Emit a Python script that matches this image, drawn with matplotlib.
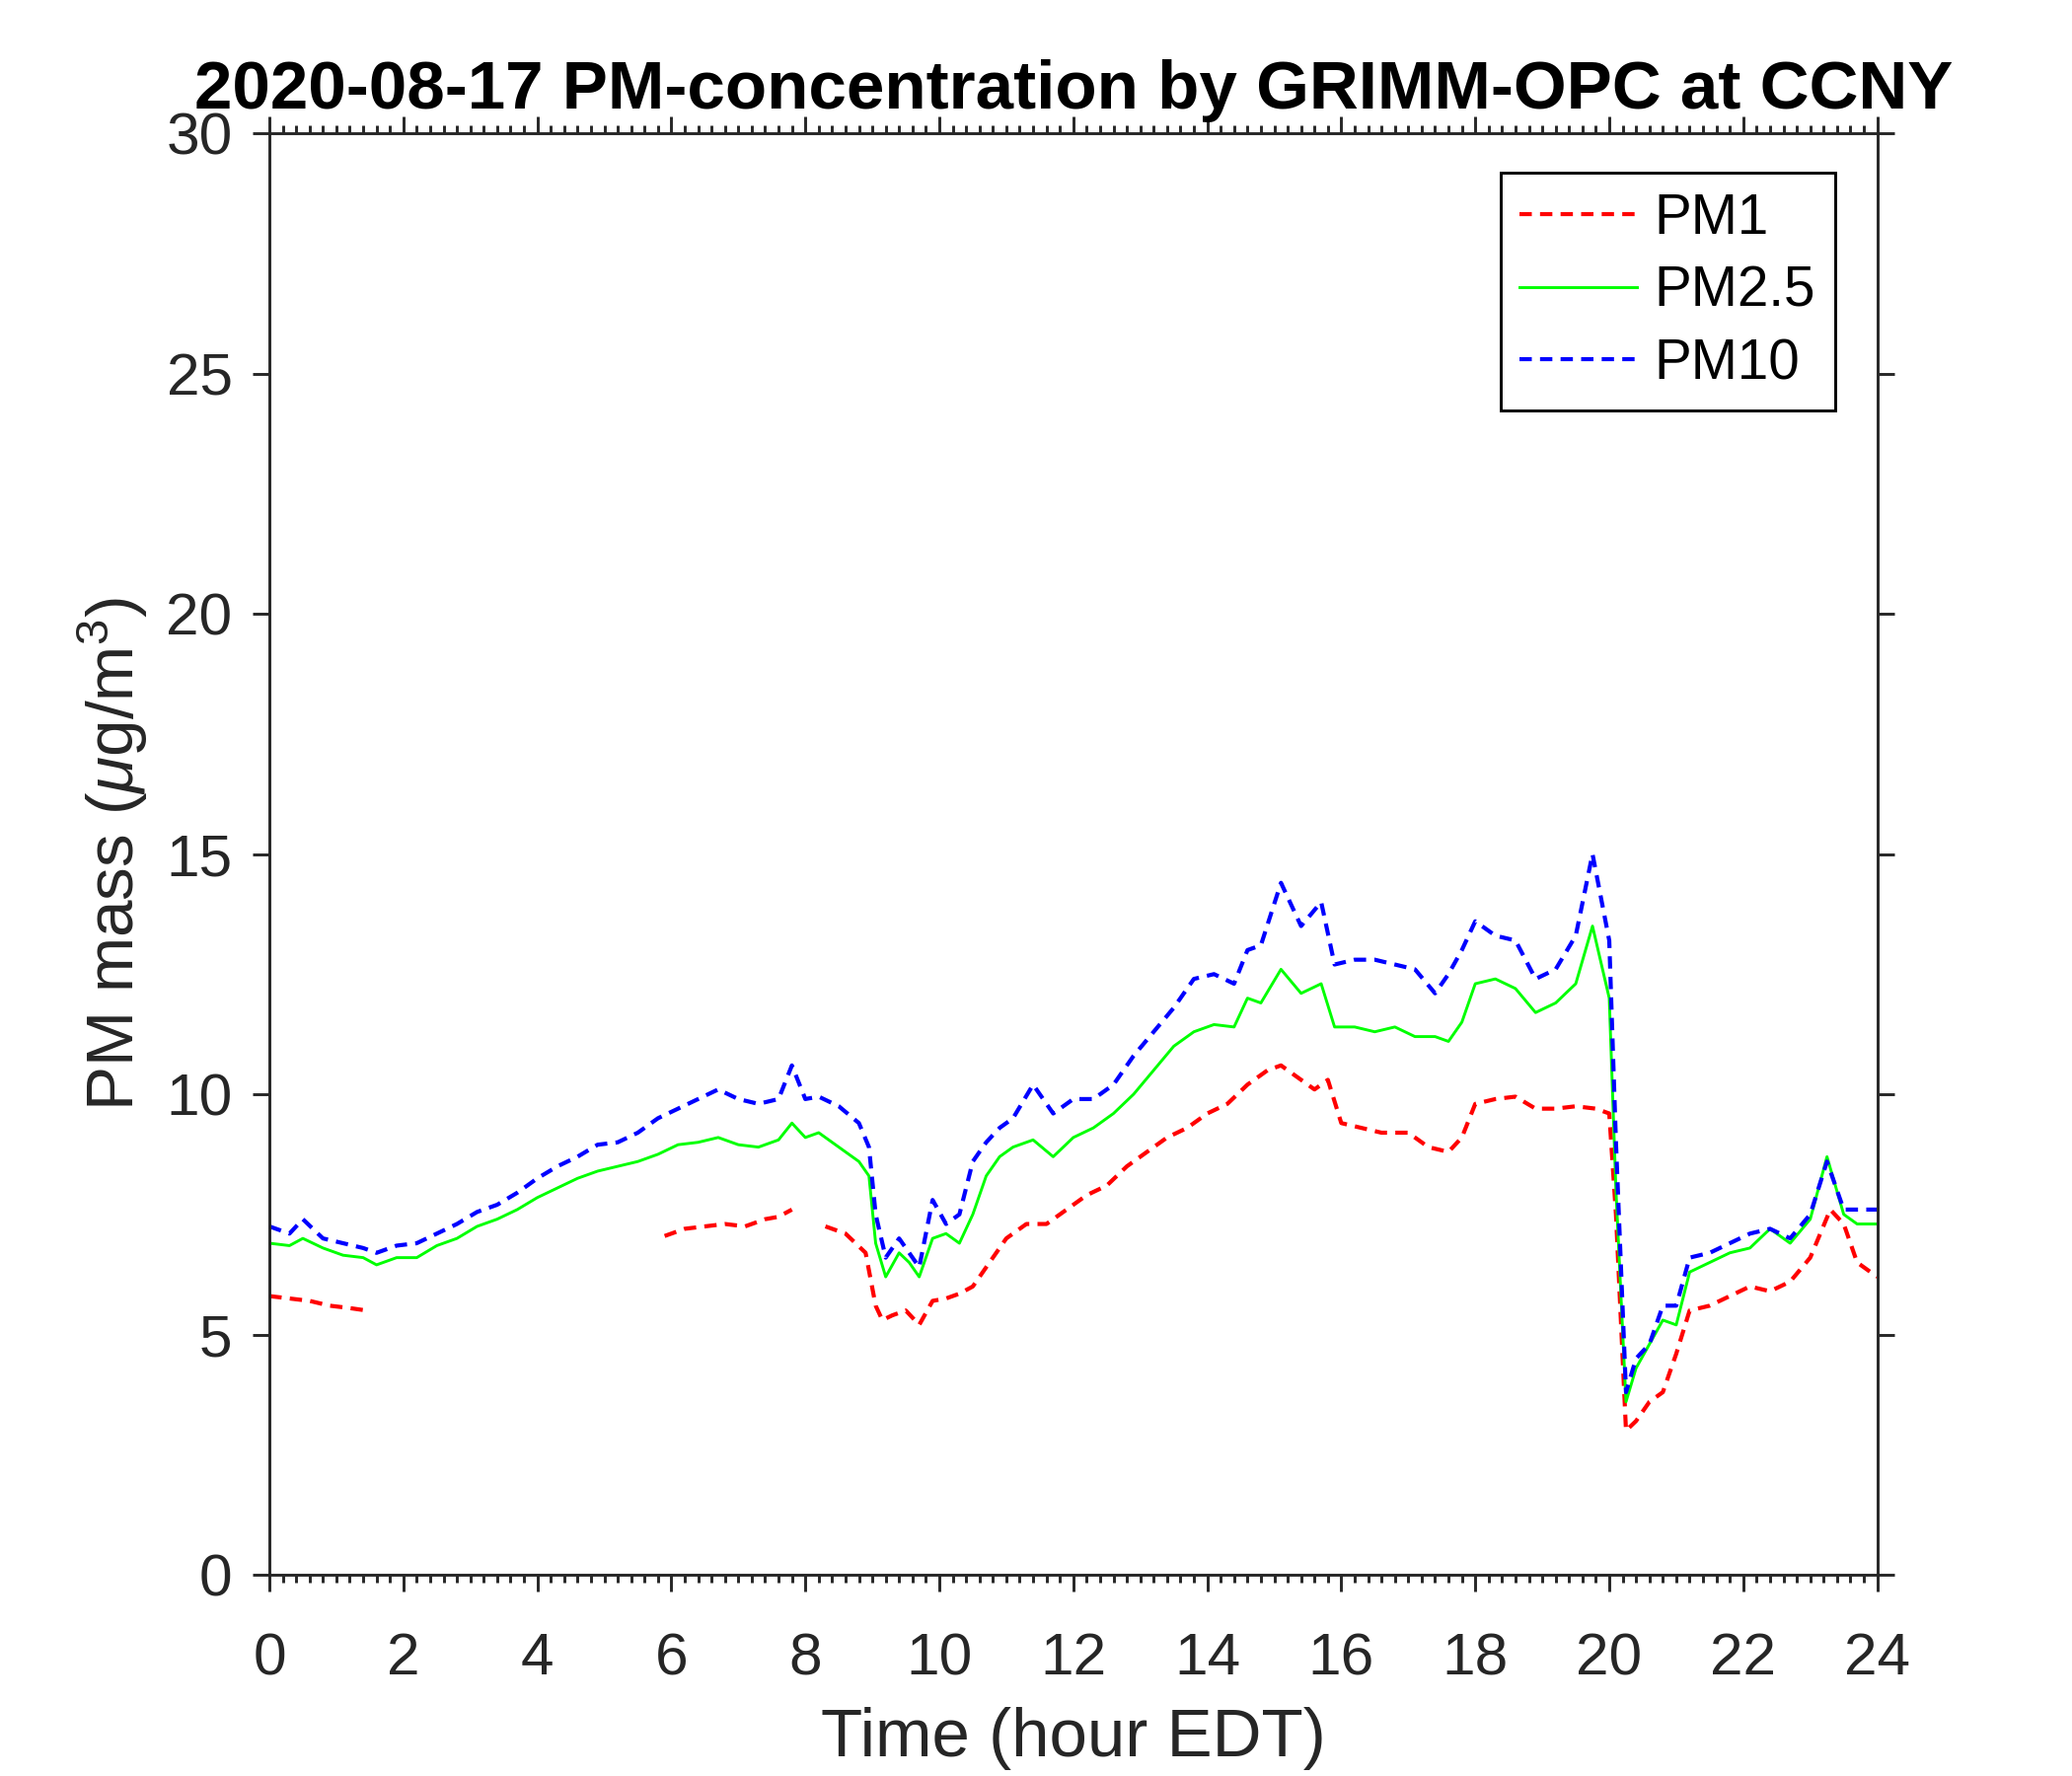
import numpy as np
import matplotlib.pyplot as plt
from matplotlib.ticker import MultipleLocator

plt.rcParams['font.family'] = ['Liberation Sans', 'DejaVu Sans']
plt.rcParams['mathtext.fontset'] = 'custom'
plt.rcParams['mathtext.rm'] = 'Liberation Sans'
plt.rcParams['mathtext.it'] = 'Liberation Sans:italic'

# hours (EDT) and concentrations
t_pm1 = [0, 0.3, 0.6, 0.9, 1.2, 1.45, 1.5,
         5.9, 6.2, 6.5, 6.8, 7.1, 7.4, 7.6, 7.8, 7.9,
         8.3, 8.6, 8.9, 9.05, 9.15, 9.3, 9.5, 9.7, 9.9, 10.1, 10.3, 10.5, 10.8, 11.0,
         11.3, 11.6, 11.9, 12.2, 12.5, 12.8, 13.1, 13.4, 13.7, 14.0, 14.3, 14.6, 14.9,
         15.1, 15.3, 15.6, 15.8, 16.0, 16.3, 16.6, 17.0, 17.3, 17.6, 17.8, 18.0, 18.3,
         18.6, 18.9, 19.2, 19.5, 19.8, 20.0, 20.1, 20.25, 20.4, 20.6, 20.8, 21.0, 21.2,
         21.5, 21.8, 22.1, 22.4, 22.7, 23.0, 23.3, 23.5, 23.7, 24.0]
pm1 = [5.8, 5.75, 5.7, 5.6, 5.55, 5.5, np.nan,
       7.05, 7.2, 7.25, 7.3, 7.25, 7.4, 7.45, 7.6, np.nan,
       7.25, 7.1, 6.7, 5.6, 5.3, 5.4, 5.5, 5.2, 5.7, 5.75, 5.85, 6.0, 6.6, 7.0,
       7.3, 7.3, 7.6, 7.9, 8.1, 8.5, 8.8, 9.1, 9.3, 9.6, 9.8, 10.2, 10.5,
       10.6, 10.4, 10.1, 10.3, 9.4, 9.3, 9.2, 9.2, 8.9, 8.8, 9.1, 9.8, 9.9,
       9.95, 9.7, 9.7, 9.75, 9.7, 9.6, 7.5, 3.0, 3.2, 3.6, 3.8, 4.6, 5.5,
       5.6, 5.8, 6.0, 5.9, 6.1, 6.6, 7.6, 7.3, 6.5, 6.2]

t_pm = [0, 0.3, 0.5, 0.8, 1.1, 1.4, 1.6, 1.9, 2.2, 2.5, 2.8, 3.1, 3.4, 3.7, 4.0,
        4.3, 4.6, 4.9, 5.2, 5.5, 5.8, 6.1, 6.4, 6.7, 7.0, 7.3, 7.6, 7.8, 8.0, 8.2,
        8.5, 8.8, 8.95, 9.05, 9.2, 9.4, 9.55, 9.7, 9.9, 10.1, 10.3, 10.5, 10.7, 10.9,
        11.1, 11.4, 11.7, 12.0, 12.3, 12.6, 12.9, 13.2, 13.5, 13.8, 14.1, 14.4, 14.6,
        14.8, 15.1, 15.4, 15.7, 15.9, 16.2, 16.5, 16.8, 17.1, 17.4, 17.6, 17.8, 18.0,
        18.3, 18.6, 18.9, 19.2, 19.5, 19.75, 20.0, 20.1, 20.25, 20.4, 20.6, 20.8, 21.0,
        21.2, 21.5, 21.8, 22.1, 22.4, 22.7, 23.0, 23.25, 23.5, 23.7, 24.0]
pm25 = [6.9, 6.85, 7.0, 6.8, 6.65, 6.6, 6.45, 6.6, 6.6, 6.85, 7.0, 7.25, 7.4, 7.6, 7.85,
        8.05, 8.25, 8.4, 8.5, 8.6, 8.75, 8.95, 9.0, 9.1, 8.95, 8.9, 9.05, 9.4, 9.1, 9.2,
        8.9, 8.6, 8.3, 6.9, 6.2, 6.7, 6.5, 6.2, 7.0, 7.1, 6.9, 7.5, 8.3, 8.7,
        8.9, 9.05, 8.7, 9.1, 9.3, 9.6, 10.0, 10.5, 11.0, 11.3, 11.45, 11.4, 12.0,
        11.9, 12.6, 12.1, 12.3, 11.4, 11.4, 11.3, 11.4, 11.2, 11.2, 11.1, 11.5, 12.3,
        12.4, 12.2, 11.7, 11.9, 12.3, 13.5, 12.0, 8.0, 3.6, 4.3, 4.8, 5.3, 5.2,
        6.3, 6.5, 6.7, 6.8, 7.2, 6.9, 7.4, 8.7, 7.5, 7.3, 7.3]
pm10 = [7.25, 7.1, 7.4, 7.0, 6.9, 6.8, 6.7, 6.85, 6.9, 7.1, 7.3, 7.55, 7.7, 7.95, 8.25,
        8.5, 8.7, 8.95, 9.0, 9.2, 9.5, 9.7, 9.9, 10.1, 9.9, 9.8, 9.9, 10.6, 9.9, 9.95,
        9.75, 9.4, 8.9, 7.5, 6.6, 7.0, 6.7, 6.4, 7.8, 7.3, 7.5, 8.6, 9.0, 9.3,
        9.5, 10.2, 9.6, 9.9, 9.9, 10.2, 10.8, 11.3, 11.8, 12.4, 12.5, 12.3, 13.0,
        13.1, 14.4, 13.5, 14.0, 12.7, 12.8, 12.8, 12.7, 12.6, 12.1, 12.5, 13.0, 13.6,
        13.3, 13.2, 12.4, 12.6, 13.3, 15.0, 13.2, 9.0, 3.8, 4.5, 4.8, 5.6, 5.6,
        6.6, 6.7, 6.9, 7.1, 7.2, 7.0, 7.5, 8.6, 7.6, 7.6, 7.6]

title = '2020-08-17 PM-concentration by GRIMM-OPC at CCNY'
ax_color = '#262626'

fig = plt.figure(figsize=(7, 6), dpi=300)
ax = fig.add_axes([0.130, 0.1133, 0.776, 0.8117])

ax.plot(t_pm1, pm1, color='#ff0000', lw=1.0, dashes=(3.0, 2.0), label='PM1')
ax.plot(t_pm, pm25, color='#00ff00', lw=0.7, label='PM2.5')
ax.plot(t_pm, pm10, color='#0000ff', lw=1.0, dashes=(3.0, 2.0), label='PM10')

ax.set_xlim(0, 24)
ax.set_ylim(0, 30)
ax.xaxis.set_major_locator(MultipleLocator(2))
ax.xaxis.set_minor_locator(MultipleLocator(0.2))
ax.yaxis.set_major_locator(MultipleLocator(5))

ax.tick_params(which='both', direction='out', top=True, right=True,
               colors=ax_color, labelsize=14.5, width=0.7)
ax.tick_params(which='major', length=4)
ax.tick_params(which='minor', length=2)
ax.tick_params(axis='x', pad=10)
ax.tick_params(axis='y', pad=5)
for s in ax.spines.values():
    s.set_color(ax_color)
    s.set_linewidth(0.7)

ax.set_xlabel('Time (hour EDT)', fontsize=16.6, color=ax_color, labelpad=5)
ax.set_ylabel(r'PM mass ($\mu$g/m$^3$)', fontsize=16.2, color=ax_color, labelpad=4)
ax.set_title(title, fontsize=16.6, fontweight='bold', pad=6)

leg = ax.legend(loc='upper right', bbox_to_anchor=(0.9737, 0.9725), borderaxespad=0,
                fontsize=13.6, fancybox=False, framealpha=1, edgecolor='black',
                handlelength=2.1, borderpad=0.35, labelspacing=0.345, handletextpad=0.3)
leg.get_frame().set_linewidth(0.7)

fig.savefig('out.png', dpi=300)
